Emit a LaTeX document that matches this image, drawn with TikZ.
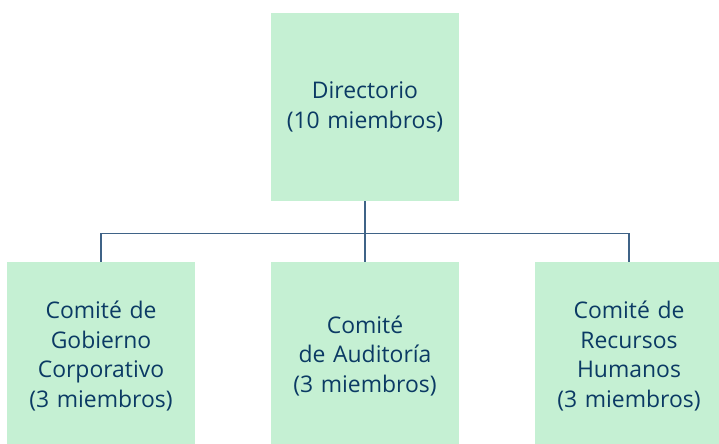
\documentclass[tikz,border=0pt]{standalone}
\usepackage{fontspec}
\setmainfont{Open Sans}
\definecolor{boxgreen}{HTML}{C5F0D3}
\definecolor{boxtext}{HTML}{0B3A64}
\definecolor{linkblue}{HTML}{3F6387}
\begin{document}
\begin{tikzpicture}[x=1bp,y=-1bp]
		  \tikzset{org box/.style={fill=boxgreen,text=boxtext,minimum width=188bp,minimum height=188bp,text width=186bp,align=center,inner sep=0pt,font=\fontsize{23}{30}\selectfont},
		  link/.style={draw=linkblue,line width=1.6bp}}
		  \useasboundingbox (0,0) rectangle (719,444);
		
		  \node [org box] (dir) at (365,107) {Directorio\\(10 miembros)};
		  \node [org box] (gob) at (101,356) {Comité de\\Gobierno\\Corporativo\\(3 miembros)};
		  \node [org box] (aud) at (365,356) {Comité\\de Auditoría\\(3 miembros)};
		  \node [org box] (rrhh) at (629,356) {Comité de\\Recursos\\Humanos\\(3 miembros)};
		  \coordinate (bus) at (365,233.5);
		  \draw[link] (dir.south) -- (aud.north);
		  \draw[link] (gob.north) |- (bus) -| (rrhh.north);
		\end{tikzpicture}
\end{document}
